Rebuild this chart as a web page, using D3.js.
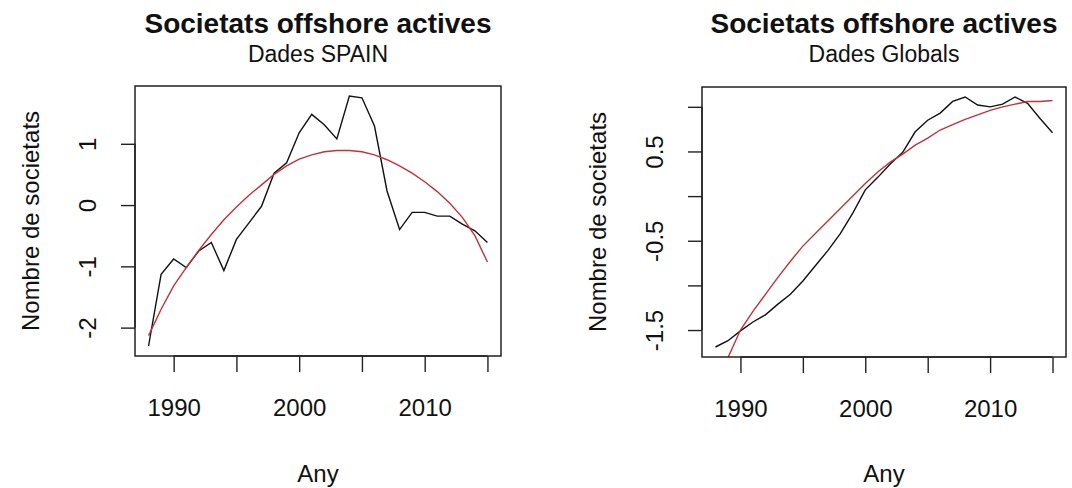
<!DOCTYPE html>
<html>
<head>
<meta charset="utf-8">
<script src="https://cdn.jsdelivr.net/npm/d3@7"></script>
<style>
  html, body { margin: 0; padding: 0; background: #fff; }
  svg { display: block; }
  text { font-family: "Liberation Sans", Arial, sans-serif; fill: #111; }
</style>
</head>
<body>
<svg id="chart" width="1072" height="488"></svg>
<script>
// Years of observation
const years = d3.range(1988, 2016);

// Spain: standardised number of active offshore companies and its fitted trend
const spainValues = [-2.30, -1.13, -0.88, -1.02, -0.75, -0.61, -1.07, -0.56, -0.29, -0.02,
                      0.52,  0.69,  1.18,  1.48,  1.31,  1.08,  1.78,  1.75,  1.29,  0.23,
                     -0.40, -0.12, -0.12, -0.18, -0.18, -0.31, -0.42, -0.61];
const spainTrend  = [-2.13, -1.70, -1.32, -1.02, -0.74, -0.48, -0.24, -0.03,  0.16,  0.33,
                      0.50,  0.64,  0.75,  0.82,  0.87,  0.89,  0.89,  0.87,  0.82,  0.74,
                      0.64,  0.52,  0.38,  0.22,  0.03, -0.20, -0.50, -0.93];

// Global: standardised number of active offshore companies and its fitted trend
const globalValues = [-1.69, -1.62, -1.51, -1.41, -1.33, -1.21, -1.10, -0.95, -0.78, -0.61,
                      -0.42, -0.19,  0.07,  0.21,  0.36,  0.49,  0.72,  0.85,  0.93,  1.06,
                       1.11,  1.02,  1.00,  1.03,  1.11,  1.04,  0.87,  0.71];
const globalTrend  = [-2.19, -1.81, -1.50, -1.29, -1.10, -0.91, -0.73, -0.56, -0.42, -0.28,
                      -0.14,  0.00,  0.14,  0.27,  0.38,  0.47,  0.57,  0.65,  0.74,  0.80,
                       0.86,  0.91,  0.96,  1.00,  1.03,  1.06,  1.06,  1.07];

// Axis ticks and the subset that carries a label
const xTicks = [1990, 1995, 2000, 2005, 2010, 2015];
const xTickLabels = [1990, 2000, 2010];
const spainYTicks = [-2, -1, 0, 1];
const spainYTickLabels = ["-2", "-1", "0", "1"];
const globalYTicks = [-1.5, -1.0, -0.5, 0.0, 0.5, 1.0];
const globalYTickLabels = ["-1.5", "", "-0.5", "", "0.5", ""];

const mainTitle = "Societats offshore actives";
const xTitle = "Any";
const yTitle = "Nombre de societats";

const svg = d3.select("#chart");

// Extends a data range by 4% on each side
function padded(ext) {
  const p = (ext[1] - ext[0]) * 0.04;
  return [ext[0] - p, ext[1] + p];
}

function panel(opts) {
  const { id, box, subtitle, values, trend, yTicks, yTickLabels } = opts;
  const g = svg.append("g");
  const cx = (box.x0 + box.x1) / 2;
  const cy = (box.y0 + box.y1) / 2;

  const x = d3.scaleLinear().domain(padded(d3.extent(years))).range([box.x0, box.x1]);
  const y = d3.scaleLinear().domain(padded(d3.extent(values))).range([box.y1, box.y0]);

  g.append("clipPath").attr("id", "clip-" + id)
    .append("rect")
    .attr("x", box.x0).attr("y", box.y0)
    .attr("width", box.x1 - box.x0).attr("height", box.y1 - box.y0);

  const line = (arr) => d3.line().x((d, i) => x(years[i])).y(d => y(d))(arr);

  g.append("path")
    .attr("d", line(values))
    .attr("fill", "none").attr("stroke", "#111").attr("stroke-width", 1.4)
    .attr("clip-path", `url(#clip-${id})`);

  g.append("path")
    .attr("d", line(trend))
    .attr("fill", "none").attr("stroke", "#c43238").attr("stroke-width", 1.4)
    .attr("clip-path", `url(#clip-${id})`);

  // Frame around the plotting region
  g.append("rect")
    .attr("x", box.x0).attr("y", box.y0)
    .attr("width", box.x1 - box.x0).attr("height", box.y1 - box.y0)
    .attr("fill", "none").attr("stroke", "#222").attr("stroke-width", 1.5);

  // Bottom axis
  const xAxis = d3.axisBottom(x).tickValues(xTicks).tickSize(16)
    .tickFormat(d => xTickLabels.includes(d) ? String(d) : "");
  const gx = g.append("g").attr("transform", `translate(0,${box.y1})`).call(xAxis);
  gx.select(".domain")
    .attr("d", `M${x(xTicks[0])},0H${x(xTicks[xTicks.length - 1])}`)
    .attr("stroke", "#222").attr("stroke-width", 1.4);
  gx.selectAll(".tick line").attr("stroke", "#222").attr("stroke-width", 1.4);
  gx.selectAll(".tick text")
    .attr("y", 60).attr("dy", null)
    .style("font-size", "24px").style("font-family", "'Liberation Sans', Arial, sans-serif")
    .attr("fill", "#111");

  // Left axis with labels set parallel to the axis
  const yAxis = d3.axisLeft(y).tickValues(yTicks).tickSize(14)
    .tickFormat((d, i) => yTickLabels[i]);
  const gy = g.append("g").attr("transform", `translate(${box.x0},0)`).call(yAxis);
  gy.select(".domain")
    .attr("d", `M0,${y(yTicks[0])}V${y(yTicks[yTicks.length - 1])}`)
    .attr("stroke", "#222").attr("stroke-width", 1.4);
  gy.selectAll(".tick line").attr("stroke", "#222").attr("stroke-width", 1.4);
  gy.selectAll(".tick text")
    .attr("x", null).attr("dy", null)
    .attr("transform", "translate(-39,0) rotate(-90)")
    .attr("text-anchor", "middle")
    .style("font-size", "24px").style("font-family", "'Liberation Sans', Arial, sans-serif")
    .attr("fill", "#111");

  // Titles
  g.append("text").attr("x", cx).attr("y", 33)
    .attr("text-anchor", "middle")
    .style("font-size", "28px").style("font-weight", "bold")
    .text(mainTitle);
  g.append("text").attr("x", cx).attr("y", 62)
    .attr("text-anchor", "middle")
    .style("font-size", "23px")
    .text(subtitle);
  g.append("text").attr("x", cx).attr("y", 482)
    .attr("text-anchor", "middle")
    .style("font-size", "24px")
    .text(xTitle);
  g.append("text")
    .attr("transform", `translate(${box.x0 - 96},${cy}) rotate(-90)`)
    .attr("text-anchor", "middle")
    .style("font-size", "24px")
    .text(yTitle);
}

panel({
  id: "spain",
  box: { x0: 135, x1: 501, y0: 86, y1: 356 },
  subtitle: "Dades SPAIN",
  values: spainValues, trend: spainTrend,
  yTicks: spainYTicks, yTickLabels: spainYTickLabels
});

panel({
  id: "global",
  box: { x0: 702, x1: 1066, y0: 87, y1: 357 },
  subtitle: "Dades Globals",
  values: globalValues, trend: globalTrend,
  yTicks: globalYTicks, yTickLabels: globalYTickLabels
});
</script>
</body>
</html>
